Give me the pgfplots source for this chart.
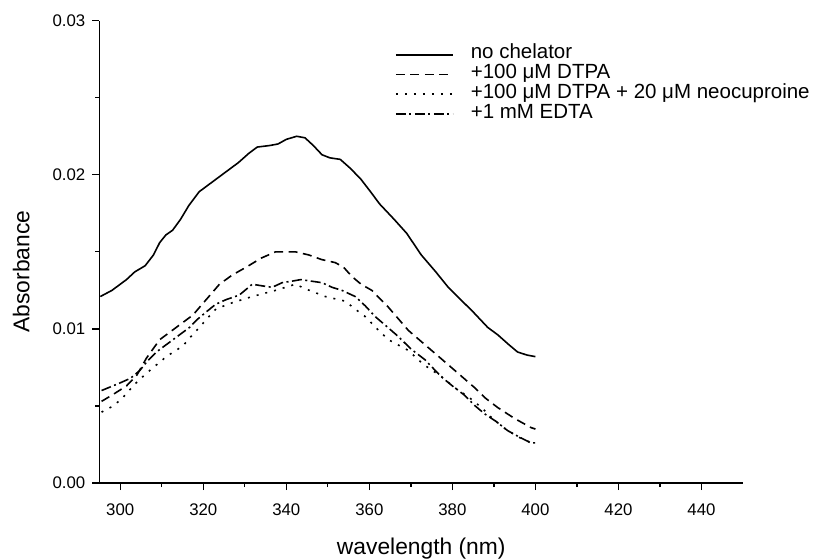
\documentclass[border=0pt]{standalone}
\usepackage{fontspec}
\setmainfont{Liberation Sans}
\usepackage{pgfplots}
\pgfplotsset{compat=1.18}
\begin{document}
\begin{tikzpicture}
\begin{axis}[
  scale only axis,
  width=643.5bp, height=462.3bp,
  at={(0,0)}, anchor=south west,
  xmin=295, xmax=450, ymin=0, ymax=0.03,
  axis x line=bottom, axis y line=left,
  axis line style={-, line width=1.8bp},
  tick align=outside,
  xtick={300,320,...,440},
  ytick={0,0.01,0.02,0.03},
  minor x tick num=1, minor y tick num=1,
  major tick length=7bp, minor tick length=4bp,
  every tick/.style={black, line width=1.3bp},
  /pgf/number format/assume math mode=true,
  yticklabel style={/pgf/number format/fixed, /pgf/number format/fixed zerofill, /pgf/number format/precision=2, font=\fontsize{16.8bp}{19bp}\selectfont, inner sep=0pt, xshift=-7bp},
  xticklabel style={font=\fontsize{16.8bp}{19bp}\selectfont, inner sep=0pt, yshift=-14bp},
  scaled y ticks=false,
  xlabel={wavelength (nm)},
  ylabel={Absorbance},
  xlabel style={font=\fontsize{22.8bp}{26bp}\selectfont, at={(axis description cs:0.5,-0.1428)}, anchor=center},
  ylabel style={font=\fontsize{22.8bp}{26bp}\selectfont, at={(axis description cs:-0.1215,0.4575)}, anchor=center, rotate=0},
  legend style={draw=none, fill=none, inner sep=0pt, at={(axis description cs:0.4592,0.9480)}, anchor=north west,
    font=\fontsize{20.5bp}{24bp}\selectfont,
    nodes={inner sep=0pt, text height=14bp, text depth=5.7bp},
    row sep=0pt,
    /tikz/every odd column/.append style={column sep=17bp}},
  legend cell align=left,
  legend image code/.code={\draw[#1] (0bp,0bp) -- (57bp,0bp);},
  every axis plot/.append style={black, line width=1.6bp, line join=round},
]
\addplot[solid] coordinates {
(295.2,0.0121) (298,0.0125) (301.5,0.0132) (303.5,0.0137) (306,0.0141) (308,0.0148)
(309.5,0.0156) (311,0.0161) (312.6,0.0164) (314.5,0.0171) (316.5,0.0180) (319,0.0189)
(321,0.0193) (323,0.0197) (326,0.0203) (328.5,0.0208) (331,0.0214) (333,0.0218)
(336,0.0219) (338,0.0220) (340,0.0223) (342.5,0.0225) (344.5,0.0224) (346.5,0.0219)
(348.6,0.0213) (350.5,0.0211) (353,0.0210) (355.5,0.0204) (358,0.0197) (360,0.0190)
(362.5,0.0181) (366,0.0171) (369,0.0162) (372.5,0.0148) (376,0.0137) (379,0.0127)
(382,0.0119) (385,0.0111) (388.5,0.0101) (391,0.0096) (393.5,0.0090) (395.7,0.0085)
(398,0.0083) (400,0.0082)
};
\addlegendentry{no chelator}
\addplot[dash pattern=on 9bp off 5.5bp] coordinates {
(295.5,0.0053) (298,0.0057) (301.5,0.0063) (304,0.0070) (306.3,0.0081) (309.5,0.0093)
(311.5,0.0097) (313.5,0.0101) (317.5,0.0109) (320.7,0.0119) (323.9,0.0129) (327,0.0135)
(330.3,0.0140) (334,0.0146) (337.4,0.0150) (342.2,0.0150) (345.4,0.0148) (348.5,0.0145)
(351.8,0.0143) (353.8,0.0140) (355.8,0.0134) (358,0.0129) (360.6,0.0125) (364.6,0.0114)
(369.4,0.0099) (375,0.0086) (380.6,0.0073) (385.3,0.0062) (388,0.0055) (390.9,0.0049)
(394.9,0.0042) (398.9,0.0036) (400,0.0035)
};
\addlegendentry{+100 μM DTPA}
\addplot[dash pattern=on 2bp off 7bp] coordinates {
(295.5,0.0046) (298.3,0.0050) (300.5,0.0055) (303.1,0.0063) (305,0.0068) (307.1,0.0073)
(311.1,0.0082) (315.1,0.0089) (317,0.0095) (319.1,0.0101) (321,0.0107) (323.1,0.0113)
(327,0.0117) (331.8,0.0121) (337.4,0.0125) (342.2,0.0129) (344.6,0.0126) (349.4,0.0121)
(354.2,0.0118) (356.5,0.0113) (359,0.0108) (361.5,0.0101) (364.6,0.0093) (369.4,0.0086)
(373,0.0077) (377.4,0.0069) (380.5,0.0062) (383.8,0.0056) (387,0.0049) (390,0.0041)
(393.3,0.0034) (396.5,0.0029) (400,0.0025)
};
\addlegendentry{+100 μM DTPA + 20 μM neocuproine}
\addplot[dash pattern=on 10bp off 3.5bp on 2bp off 3.5bp] coordinates {
(295.5,0.0060) (300,0.0065) (302.5,0.0068) (304.7,0.0073) (306.5,0.0079) (308.7,0.0085)
(312.7,0.0093) (316.7,0.0101) (318.5,0.0106) (320.7,0.0111) (323,0.0116) (325.5,0.0119)
(328.7,0.0122) (331.8,0.0129) (334,0.0128) (336.6,0.0127) (339,0.0130) (341.4,0.0131)
(343.5,0.0132) (346,0.0131) (348.6,0.0130) (351,0.0127) (353.4,0.0125) (356.6,0.0121)
(359,0.0115) (361.4,0.0108) (364,0.0102) (367,0.0095) (370,0.0087) (373.4,0.0080)
(377.3,0.0069) (380,0.0063) (382.9,0.0057) (385.5,0.0050) (387.7,0.0045) (390.5,0.0040)
(393.3,0.0034) (396,0.0030) (398.9,0.0026) (400,0.0026)
};
\addlegendentry{+1 mM EDTA}
\end{axis}
\pgfresetboundingbox
\path[use as bounding box] (-99.5bp,-76bp) rectangle (724.5bp,483bp);
\end{tikzpicture}
\end{document}
